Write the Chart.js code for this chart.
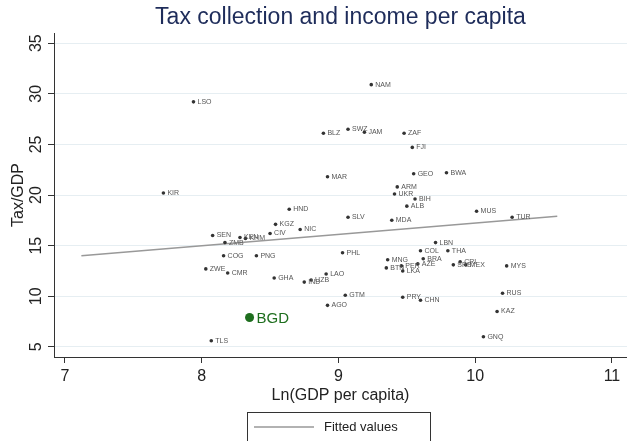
<!DOCTYPE html>
<html>
<head>
<meta charset="utf-8">
<script src="https://cdn.jsdelivr.net/npm/chart.js@4"></script>
<style>
  html, body { margin: 0; padding: 0; background: #fff; }
  #wrap { width: 627px; height: 441px; position: relative; }
</style>
</head>
<body>
<div id="wrap"><canvas id="chart"></canvas></div>
<script>
// country codes, ln(GDP per capita), tax/GDP
var countries = ['NAM','LSO','BLZ','SWZ','JAM','ZAF','FJI','MAR','GEO','BWA',
  'ARM','UKR','BIH','KIR','ALB','MUS','TUR','HND','SLV','MDA',
  'KGZ','NIC','CIV','SEN','KEN','KHM','ZMB','LBN','COL','THA',
  'COG','PNG','PHL','MNG','BRA','BTN','PER','AZE','LKA','SRB',
  'CRI','MEX','MYS','ZWE','CMR','LAO','GHA','IND','UZB','GTM',
  'PRY','CHN','RUS','AGO','KAZ','BGD','TLS','GNQ'];
var lnGdp = [9.24, 7.94, 8.89, 9.07, 9.19, 9.48, 9.54, 8.92, 9.55, 9.79,
  9.43, 9.41, 9.56, 7.72, 9.50, 10.01, 10.27, 8.64, 9.07, 9.39,
  8.54, 8.72, 8.50, 8.08, 8.28, 8.32, 8.17, 9.71, 9.60, 9.80,
  8.16, 8.40, 9.03, 9.36, 9.62, 9.35, 9.46, 9.58, 9.47, 9.84,
  9.89, 9.93, 10.23, 8.03, 8.19, 8.91, 8.53, 8.75, 8.80, 9.05,
  9.47, 9.60, 10.20, 8.92, 10.16, 8.35, 8.07, 10.06];
var taxGdp = [30.9, 29.2, 26.1, 26.5, 26.2, 26.1, 24.7, 21.8, 22.1, 22.2,
  20.8, 20.1, 19.6, 20.2, 18.9, 18.4, 17.8, 18.6, 17.8, 17.5,
  17.1, 16.6, 16.2, 16.0, 15.8, 15.7, 15.3, 15.3, 14.5, 14.5,
  14.0, 14.0, 14.3, 13.6, 13.7, 12.8, 13.0, 13.2, 12.5, 13.1,
  13.4, 13.1, 13.0, 12.7, 12.3, 12.2, 11.8, 11.4, 11.6, 10.1,
  9.9, 9.6, 10.3, 9.1, 8.5, 7.9, 5.6, 6.0];
var highlight = 'BGD';

// fitted values line end points
var fittedX = [7.12, 10.60];
var fittedY = [14.0, 17.9];

var xTicks = [7, 8, 9, 10, 11];
var yTicks = [5, 10, 15, 20, 25, 30, 35];

var titleText = 'Tax collection and income per capita';
var FONT = '"Liberation Sans", Arial, sans-serif';

var others = [], otherNames = [], hiPoint = [];
countries.forEach(function(c, i) {
  if (c === highlight) {
    hiPoint.push({x: lnGdp[i], y: taxGdp[i]});
  } else {
    others.push({x: lnGdp[i], y: taxGdp[i]});
    otherNames.push(c);
  }
});
var fitted = fittedX.map(function(x, i) { return {x: x, y: fittedY[i]}; });

var decorations = {
  id: 'decorations',
  afterDatasetsDraw: function(chart) {
    var ctx = chart.ctx;
    ctx.save();
    // point labels
    ctx.font = '7px ' + FONT;
    ctx.fillStyle = '#555';
    ctx.textBaseline = 'middle';
    ctx.textAlign = 'left';
    chart.getDatasetMeta(0).data.forEach(function(el, i) {
      ctx.fillText(otherNames[i], el.x + 4, el.y);
    });
    var hi = chart.getDatasetMeta(1).data[0];
    ctx.font = '15px ' + FONT;
    ctx.fillStyle = '#1e6e1e';
    ctx.fillText(highlight, hi.x + 7, hi.y + 1);
    ctx.restore();
  },
  afterDraw: function(chart) {
    var ctx = chart.ctx, area = chart.chartArea, x = chart.scales.x, y = chart.scales.y;
    ctx.save();
    // title centred over plot area
    ctx.font = '23px ' + FONT;
    ctx.fillStyle = '#1e2c5a';
    ctx.textAlign = 'center';
    ctx.textBaseline = 'middle';
    ctx.fillText(titleText, (area.left + area.right) / 2, 18);
    // tick labels
    ctx.font = '16px ' + FONT;
    ctx.fillStyle = '#222';
    xTicks.forEach(function(v) {
      ctx.fillText(String(v), x.getPixelForValue(v), area.bottom + 20);
    });
    yTicks.forEach(function(v) {
      ctx.save();
      ctx.translate(37, y.getPixelForValue(v));
      ctx.rotate(-Math.PI / 2);
      ctx.fillText(String(v), 0, 0);
      ctx.restore();
    });
    // legend box
    ctx.strokeStyle = '#333';
    ctx.lineWidth = 1;
    ctx.strokeRect(247.5, 412.5, 183, 40);
    ctx.strokeStyle = '#999';
    ctx.lineWidth = 1.5;
    ctx.beginPath();
    ctx.moveTo(254, 427);
    ctx.lineTo(314, 427);
    ctx.stroke();
    ctx.font = '13px ' + FONT;
    ctx.fillStyle = '#222';
    ctx.textAlign = 'left';
    ctx.fillText('Fitted values', 324, 427);
    ctx.restore();
  }
};

new Chart(document.getElementById('chart'), {
  type: 'scatter',
  data: {
    datasets: [
      {
        label: 'countries',
        data: others,
        pointRadius: 1.8,
        pointHoverRadius: 1.8,
        backgroundColor: '#333',
        borderColor: '#333',
        borderWidth: 0,
        order: 1
      },
      {
        label: highlight,
        data: hiPoint,
        pointRadius: 4.5,
        backgroundColor: '#1e6e1e',
        borderColor: '#1e6e1e',
        borderWidth: 0,
        order: 0
      },
      {
        type: 'line',
        label: 'Fitted values',
        data: fitted,
        borderColor: '#999',
        borderWidth: 1.5,
        pointRadius: 0,
        fill: false,
        order: 2
      }
    ]
  },
  options: {
    responsive: true,
    maintainAspectRatio: false,
    animation: false,
    layout: { autoPadding: false, padding: { top: 33, left: 0, right: 0, bottom: 36 } },
    plugins: {
      legend: { display: false },
      title: { display: false },
      tooltip: { enabled: false }
    },
    scales: {
      x: {
        type: 'linear',
        min: 6.92,
        max: 11.11,
        afterBuildTicks: function(s) { s.ticks = xTicks.map(function(v) { return {value: v}; }); },
        afterFit: function(s) { s.height = 48; },
        grid: { drawOnChartArea: false, drawTicks: true, tickLength: 6, color: '#333' },
        border: { display: true, color: '#333', width: 1 },
        ticks: { display: false },
        title: { display: true, text: 'Ln(GDP per capita)', color: '#222',
          font: { family: FONT, size: 16 }, padding: { top: 0, bottom: 0 } }
      },
      y: {
        type: 'linear',
        min: 4,
        max: 36,
        afterBuildTicks: function(s) { s.ticks = yTicks.map(function(v) { return {value: v}; }); },
        afterFit: function(s) { s.width = 54; },
        grid: { color: '#e6eef2', tickColor: '#333', drawTicks: true, tickLength: 6 },
        border: { display: true, color: '#333', width: 1 },
        ticks: { display: false },
        title: { display: true, text: 'Tax/GDP', color: '#222',
          font: { family: FONT, size: 16 }, padding: { top: 9, bottom: 0 } }
      }
    }
  },
  plugins: [decorations]
});
</script>
</body>
</html>
